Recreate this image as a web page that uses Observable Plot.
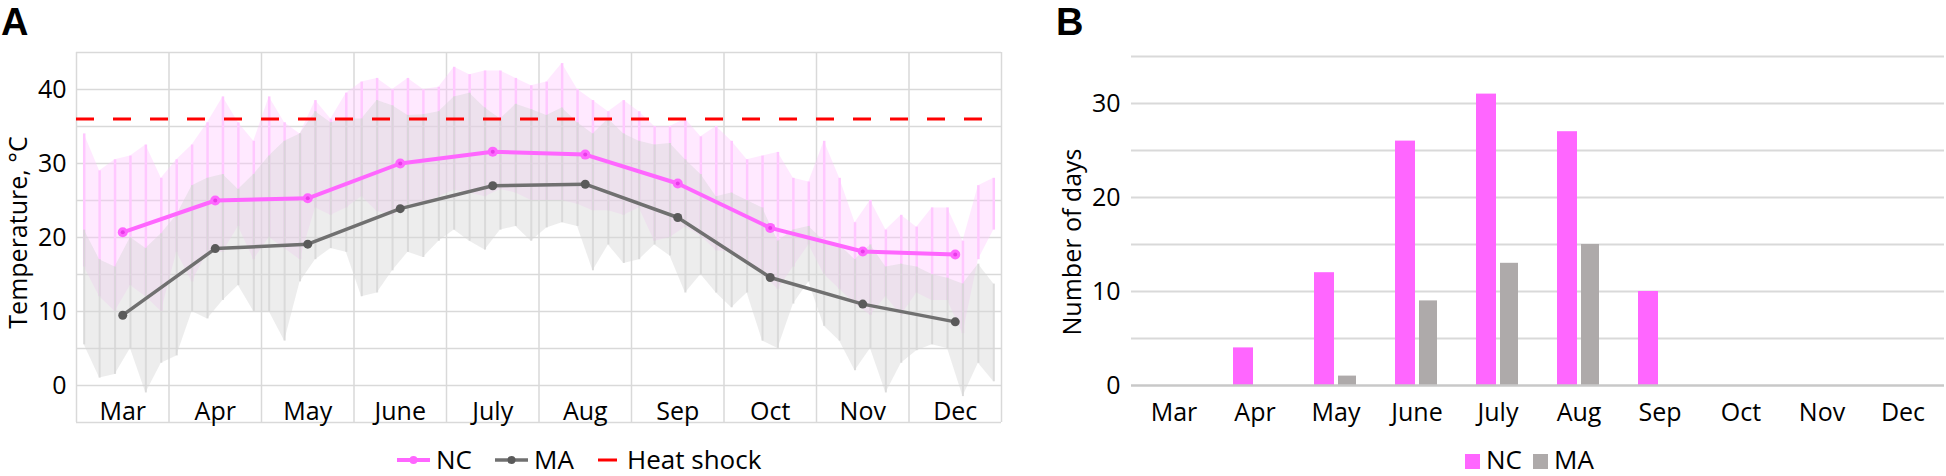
<!DOCTYPE html>
<html><head><meta charset="utf-8">
<script src="https://cdn.jsdelivr.net/npm/d3@7"></script>
<script src="https://cdn.jsdelivr.net/npm/@observablehq/plot@0.6"></script>
<style>
body{margin:0;background:#fff;}
#wrap{position:relative;width:1946px;height:476px;overflow:hidden;background:#fff;font-family:"Open Sans",sans-serif;}
.abs{position:absolute;}
</style></head><body>
<div id="wrap">
  <div id="chartA" class="abs" style="left:0;top:0"></div>
  <div id="chartB" class="abs" style="left:1040px;top:0"></div>
  <svg id="over" class="abs" style="left:0;top:0" width="1946" height="476"></svg>
</div>
<script>
// ---------- data ----------
const months = ["Mar","Apr","May","June","July","Aug","Sep","Oct","Nov","Dec"];
const ncMean = [20.7, 25.0, 25.3, 30.0, 31.6, 31.2, 27.3, 21.3, 18.1, 17.7];
const maMean = [9.5, 18.5, 19.1, 23.9, 27.0, 27.2, 22.7, 14.6, 11.0, 8.6];
const heatShock = 36;
const ncDays = [0, 4, 12, 26, 31, 27, 10, 0, 0, 0];
const maDays = [0, 0, 1, 9, 13, 15, 0, 0, 0, 0];
const yTicksA = [0, 10, 20, 30, 40];
const yTicksB = [0, 10, 20, 30];
// hourly-record envelope, read ~every 5 days (6 per month)
const ncHigh = [34,29,30.5,31,32.5,28, 30.5,32.5,35.5,39,35.5,33, 39,35.5,34,38.5,36,39.5, 41,41.5,40,41.5,40,40.3,
  43,42,42.5,42.5,41.5,40.5, 41,43.5,40,38.5,37,38.5, 37,35,35,36,33.6,35, 33,30.5,31,31.5,28,27.5,
  33,28,22,25,21,23, 21.4,24,24,19.5,27,28];
const ncLow = [16,12,10,13.5,12,10, 18,14,18,18,21.5,17, 20,18.5,17,24,23,24, 25.5,23.5,23,24.5,24.5,25.5,
  26.4,26,25.5,26.5,26,25, 25,25,24.5,23.6,23.6,23, 24,19.5,20,21.4,20.2,18.2, 18,16.5,15,13,16,19,
  15,13,11,9.5,12,9.5, 12.5,11.5,11.5,7,17,21];
const maHigh = [21,17,16,20,18.5,20.5, 23,27,28,28.5,26.5,28.5, 31,33,34,37,35.5,36, 36,38.5,37.8,36.5,36.6,37,
  39,39.5,37.5,36,38,37.3, 36.5,37.5,35.5,34,36,34, 33,32.5,32.7,30.5,28.5,25.5, 26,25,24,19.5,21,21.5,
  19.5,19,17,19,16,16.4, 16,15,14.5,13.7,16.4,13.7];
const maLow = [5.5,1,1.5,5,-1,3, 4,10,9,11.5,13.5,10, 10,6,14,17,18.5,18, 12,12.5,15.5,18,17.3,19.5,
  21,19.5,18.3,21,21.5,19.5, 21.3,22,21.5,15.5,19,16.5, 17,19,17.5,12.5,15,12.5, 10.5,12.5,6,5,11,14,
  8,6,2,5,-1,3, 4.7,5.5,5,-1.5,3,0.5];
const perMonth = 6;

// ---------- derived tables ----------
const env = (hi, lo) => hi.map((h, i) => ({t: Math.floor(i / perMonth) + ((i % perMonth) + 0.5) / perMonth, high: h, low: lo[i]}));
const meanRows = (arr) => arr.map((v, i) => ({t: i + 0.5, v}));
const ncEnv = env(ncHigh, ncLow), maEnv = env(maHigh, maLow);
const ncM = meanRows(ncMean), maM = meanRows(maMean);
const bars = months.map((m, i) => ({month: m, nc: ncDays[i], ma: maDays[i]}));

const font = '"Open Sans", sans-serif';
const C = {nc: "#ff66ff", ncDot: "#e83be8", ma: "#707070", maDot: "#5a5a5a",
  ncTrace: "#ffc8ff", maTrace: "#d6d6d6", grid: "#d9d9d9", red: "#ff0000", barMA: "#aeaaaa"};

// ---------- Panel A ----------
const A = Plot.plot({
  width: 1010, height: 440, marginLeft: 76, marginRight: 9, marginTop: 52, marginBottom: 18,
  style: {fontFamily: font, fontSize: "25px", color: "#000", background: "transparent", overflow: "visible"},
  x: {domain: [0, 10]},
  y: {domain: [-5, 45]},
  marks: [
    Plot.ruleY(d3.range(-5, 50, 5), {stroke: C.grid, strokeWidth: 1.5}),
    Plot.ruleX(d3.range(0, 11), {stroke: C.grid, strokeWidth: 1.5}),
    Plot.areaY(ncEnv, {x: "t", y1: "low", y2: "high", fill: C.ncTrace, fillOpacity: 0.4}),
    Plot.ruleX(ncEnv, {x: "t", y1: "low", y2: "high", stroke: C.ncTrace, strokeWidth: 2.5}),
    Plot.areaY(maEnv, {x: "t", y1: "low", y2: "high", fill: C.maTrace, fillOpacity: 0.45}),
    Plot.ruleX(maEnv, {x: "t", y1: "low", y2: "high", stroke: C.maTrace, strokeWidth: 2, strokeOpacity: 0.85}),
    Plot.ruleY([heatShock], {stroke: C.red, strokeWidth: 3, strokeDasharray: "18,19"}),
    Plot.lineY(ncM, {x: "t", y: "v", stroke: C.nc, strokeWidth: 4}),
    Plot.dot(ncM, {x: "t", y: "v", r: 5, fill: C.nc}),
    Plot.dot(ncM, {x: "t", y: "v", r: 2, fill: C.ncDot}),
    Plot.lineY(maM, {x: "t", y: "v", stroke: C.ma, strokeWidth: 3.5}),
    Plot.dot(maM, {x: "t", y: "v", r: 4.5, fill: C.maDot}),
    Plot.axisX({ticks: d3.range(10).map(i => i + 0.5), tickFormat: d => months[Math.floor(d)],
      tickSize: 0, tickPadding: 0, dy: -20, label: null, fontSize: 25}),
    Plot.axisY({ticks: yTicksA, tickSize: 0, tickPadding: 10, label: null, fontSize: 25}),
    Plot.text(["Temperature, °C"], {frameAnchor: "left", textAnchor: "middle", lineAnchor: "middle",
      rotate: -90, dx: -58, dy: -5, fontSize: 25})
  ]
});
document.getElementById("chartA").append(A);

// ---------- Panel B ----------
const B = Plot.plot({
  width: 906, height: 440, marginLeft: 91, marginRight: 2, marginTop: 56, marginBottom: 55,
  style: {fontFamily: font, fontSize: "25px", color: "#000", background: "transparent", overflow: "visible"},
  x: {domain: months, padding: 0},
  y: {domain: [0, 35]},
  marks: [
    Plot.ruleY(d3.range(5, 40, 5), {stroke: C.grid, strokeWidth: 2}),
    Plot.barY(bars.filter(d => d.nc > 0), {x: "month", y: "nc", fill: C.nc, dx: -11.5, insetLeft: 30.5, insetRight: 30.5}),
    Plot.barY(bars.filter(d => d.ma > 0), {x: "month", y: "ma", fill: C.barMA, dx: 11.5, insetLeft: 31.5, insetRight: 31.5}),
    Plot.ruleY([0], {stroke: "#c8c8c8", strokeWidth: 2.5}),
    Plot.axisX({tickSize: 0, tickPadding: 18, label: null, fontSize: 25}),
    Plot.axisY({ticks: yTicksB, tickSize: 0, tickPadding: 11, label: null, fontSize: 25}),
    Plot.text(["Number of days"], {frameAnchor: "left", textAnchor: "middle", lineAnchor: "middle",
      rotate: -90, dx: -59, dy: 21, fontSize: 25})
  ]
});
document.getElementById("chartB").append(B);

// ---------- panel letters and legends ----------
const over = d3.select("#over").style("font-family", font);
over.append("text").attr("x", 1).attr("y", 35).attr("font-family", '"Liberation Sans", Arial, sans-serif')
  .attr("font-weight", "bold").attr("font-size", 38).text("A");
over.append("text").attr("x", 1056).attr("y", 35).attr("font-family", '"Liberation Sans", Arial, sans-serif')
  .attr("font-weight", "bold").attr("font-size", 38).text("B");

const legA = [
  {label: "NC", x: 397, w: 33, color: C.nc, dot: C.nc, sw: 4},
  {label: "MA", x: 495, w: 33, color: C.ma, dot: C.maDot, sw: 3.5},
  {label: "Heat shock", x: 598, w: 19, color: C.red, dot: null, sw: 3}
];
const ly = 460;
legA.forEach(d => {
  over.append("line").attr("x1", d.x).attr("x2", d.x + d.w).attr("y1", ly).attr("y2", ly)
    .attr("stroke", d.color).attr("stroke-width", d.sw);
  if (d.dot) over.append("circle").attr("cx", d.x + d.w / 2).attr("cy", ly).attr("r", 4).attr("fill", d.dot);
  over.append("text").attr("x", d.x + d.w + (d.dot ? 6 : 10)).attr("y", ly + 9).attr("font-size", 26).text(d.label);
});
const legB = [{label: "NC", x: 1465, color: C.nc}, {label: "MA", x: 1533, color: C.barMA}];
legB.forEach(d => {
  over.append("rect").attr("x", d.x).attr("y", 454).attr("width", 15).attr("height", 15).attr("fill", d.color);
  over.append("text").attr("x", d.x + 21).attr("y", 469).attr("font-size", 26).text(d.label);
});
</script>
</body></html>
